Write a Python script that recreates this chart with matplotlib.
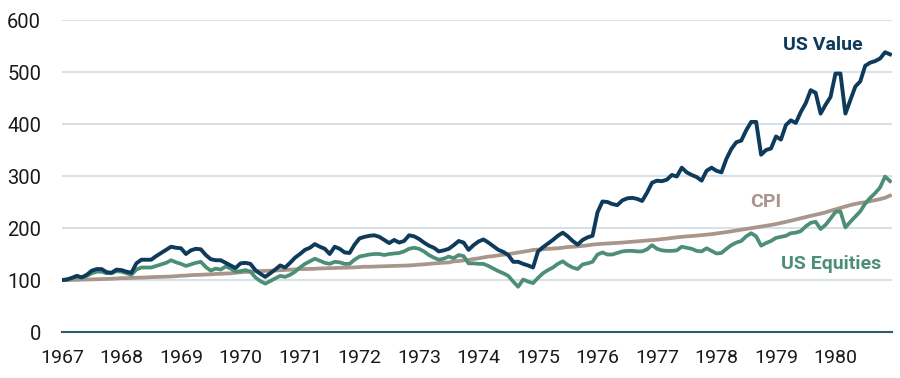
import matplotlib
matplotlib.use("Agg")
import numpy as np
import matplotlib.pyplot as plt

# Growth of 100, monthly, Jan 1967 .. Dec 1980
start_year = 1967
year_ticks = list(range(1967, 1981))
y_ticks = [0, 100, 200, 300, 400, 500, 600]

us_value = [
    100, 101, 104, 108, 105, 110, 118, 121, 121, 115, 114, 120,   # 1967
    119, 116, 114, 132, 139, 139, 139, 146, 152, 158, 164, 162,   # 1968
    161, 150, 157, 160, 159, 148, 140, 138, 138, 133, 128, 123,   # 1969
    132, 133, 131, 119, 112, 106, 113, 120, 128, 124, 133, 143,   # 1970
    150, 158, 162, 169, 164, 160, 150, 164, 160, 153, 152, 168,   # 1971
    180, 183, 185, 186, 183, 177, 171, 177, 172, 175, 186, 184,   # 1972
    179, 172, 166, 162, 155, 157, 160, 167, 175, 172, 158, 167,   # 1973
    174, 178, 172, 165, 158, 154, 148, 135, 135, 131, 128, 124,   # 1974
    155, 163, 170, 177, 185, 191, 184, 175, 168, 177, 182, 185,   # 1975
    230, 251, 250, 246, 244, 253, 257, 258, 256, 252, 268, 287,   # 1976
    291, 290, 293, 302, 299, 316, 307, 302, 298, 291, 310, 316,   # 1977
    310, 307, 333, 352, 365, 368, 388, 404, 404, 341, 350, 353,   # 1978
    376, 370, 398, 407, 402, 423, 440, 465, 460, 420, 437, 452,   # 1979
    497, 497, 420, 446, 472, 482, 512, 518, 521, 526, 538, 534,   # 1980
]

us_equities = [
    100, 101, 104, 107, 105, 108, 113, 116, 116, 113, 113, 117,   # 1967
    116, 113, 110, 120, 124, 124, 124, 127, 130, 133, 138, 134,   # 1968
    131, 127, 130, 133, 135, 125, 118, 122, 120, 126, 122, 116,   # 1969
    117, 119, 116, 105, 98, 93, 98, 103, 108, 106, 110, 116,      # 1970
    124, 131, 136, 141, 137, 133, 131, 135, 134, 131, 131, 139,   # 1971
    145, 147, 149, 150, 150, 148, 150, 151, 152, 155, 160, 162,   # 1972
    160, 155, 148, 143, 139, 141, 145, 142, 148, 146, 132, 132,   # 1973
    131, 131, 127, 122, 117, 113, 108, 97, 87, 101, 97, 94,       # 1974
    104, 113, 119, 124, 131, 136, 129, 124, 121, 130, 132, 135,   # 1975
    149, 153, 149, 149, 152, 155, 156, 156, 155, 155, 159, 167,   # 1976
    160, 157, 156, 156, 157, 164, 162, 160, 156, 155, 161, 156,   # 1977
    151, 152, 160, 167, 172, 175, 184, 190, 184, 166, 171, 175,   # 1978
    181, 183, 185, 190, 191, 194, 203, 210, 212, 198, 206, 218,   # 1979
    231, 232, 201, 212, 222, 232, 247, 258, 267, 278, 299, 290,   # 1980
]

cpi = [
    100.0, 100.0, 100.0, 100.3, 100.6, 100.9, 101.2, 101.5, 101.8, 102.1, 102.4, 103.0,
    103.6, 103.6, 104.0, 104.3, 104.6, 104.9, 105.5, 105.8, 106.1, 106.4, 106.7, 107.3,
    108.2, 108.5, 109.4, 109.7, 110.0, 110.6, 110.9, 111.6, 111.9, 112.5, 112.8, 114.0,
    114.9, 115.5, 116.1, 116.7, 117.0, 117.6, 117.9, 118.2, 118.8, 119.5, 119.8, 120.4,
    121.0, 121.0, 121.3, 121.6, 122.2, 122.5, 122.8, 123.1, 123.4, 123.7, 124.0, 124.3,
    124.9, 125.5, 125.5, 125.8, 126.1, 126.4, 126.7, 127.1, 127.4, 127.7, 128.0, 128.6,
    129.5, 130.1, 131.0, 131.9, 132.5, 133.4, 133.7, 135.9, 136.5, 137.7, 138.6, 140.4,
    141.6, 143.5, 145.0, 145.9, 147.4, 148.6, 149.8, 151.4, 153.2, 154.4, 155.9, 157.8,
    158.4, 159.3, 159.9, 160.5, 161.1, 162.0, 163.5, 163.8, 164.7, 165.6, 166.6, 168.1,
    169.0, 169.6, 170.2, 170.8, 171.4, 172.0, 172.9, 173.6, 174.4, 175.1, 175.8, 176.6,
    177.5, 178.7, 179.6, 180.9, 182.1, 183.0, 183.9, 184.5, 185.4, 186.3, 187.2, 188.1,
    189.4, 190.6, 192.1, 193.6, 195.1, 196.7, 198.2, 199.7, 201.2, 202.7, 204.3, 205.8,
    207.6, 209.7, 211.9, 214.0, 216.4, 218.8, 221.0, 223.4, 225.5, 227.6, 230.0, 233.1,
    235.9, 238.6, 241.6, 244.1, 246.2, 248.3, 249.5, 251.4, 253.5, 255.6, 258.1, 262.3,
]

# Series labels, placed next to the lines (x in years, y in index points)
labels = ["US Value", "CPI", "US Equities"]
label_pos = [(1979.79, 552), (1978.83, 250), (1979.92, 131)]

NAVY = "#0e3a5b"
GREEN = "#4d8f76"
TAUPE = "#a8968a"
GRID = "#d6e1e9"
AXIS = "#2d5b73"

plt.rcParams["font.family"] = ["Roboto", "DejaVu Sans"]

t = start_year + np.arange(len(us_value)) / 12.0

fig = plt.figure(figsize=(9, 3.78), dpi=100)
ax = fig.add_axes([62 / 900, 46 / 378, 830 / 900, 312 / 378])

ax.plot(t, cpi, color=TAUPE, lw=2.7, solid_joinstyle="round", zorder=3)
ax.plot(t, us_equities, color=GREEN, lw=2.7, solid_joinstyle="round", zorder=4)
ax.plot(t, us_value, color=NAVY, lw=2.8, solid_joinstyle="round", zorder=5)

for text, (x, y), c in zip(labels, label_pos, [NAVY, TAUPE, GREEN]):
    ax.text(x, y, text, color=c, fontsize=14, fontweight="bold",
            ha="center", va="center")

ax.set_xlim(start_year, 1980.95)
ax.set_ylim(0, 600)
ax.set_xticks(year_ticks)
ax.set_xticklabels([str(y) for y in year_ticks])
ax.set_yticks(y_ticks)

ax.yaxis.grid(True, color=GRID, lw=1.4)
ax.set_axisbelow(True)
for side in ["top", "right", "left"]:
    ax.spines[side].set_visible(False)
ax.spines["bottom"].set_color(AXIS)
ax.spines["bottom"].set_linewidth(1.5)
ax.spines["bottom"].set_zorder(6)

ax.tick_params(axis="y", length=0, pad=15, labelsize=14.5, labelcolor="#1a1a1a")
ax.tick_params(axis="x", length=0, pad=12, labelsize=14, labelcolor="#1a1a1a")

fig.savefig("out.png", dpi=100)
